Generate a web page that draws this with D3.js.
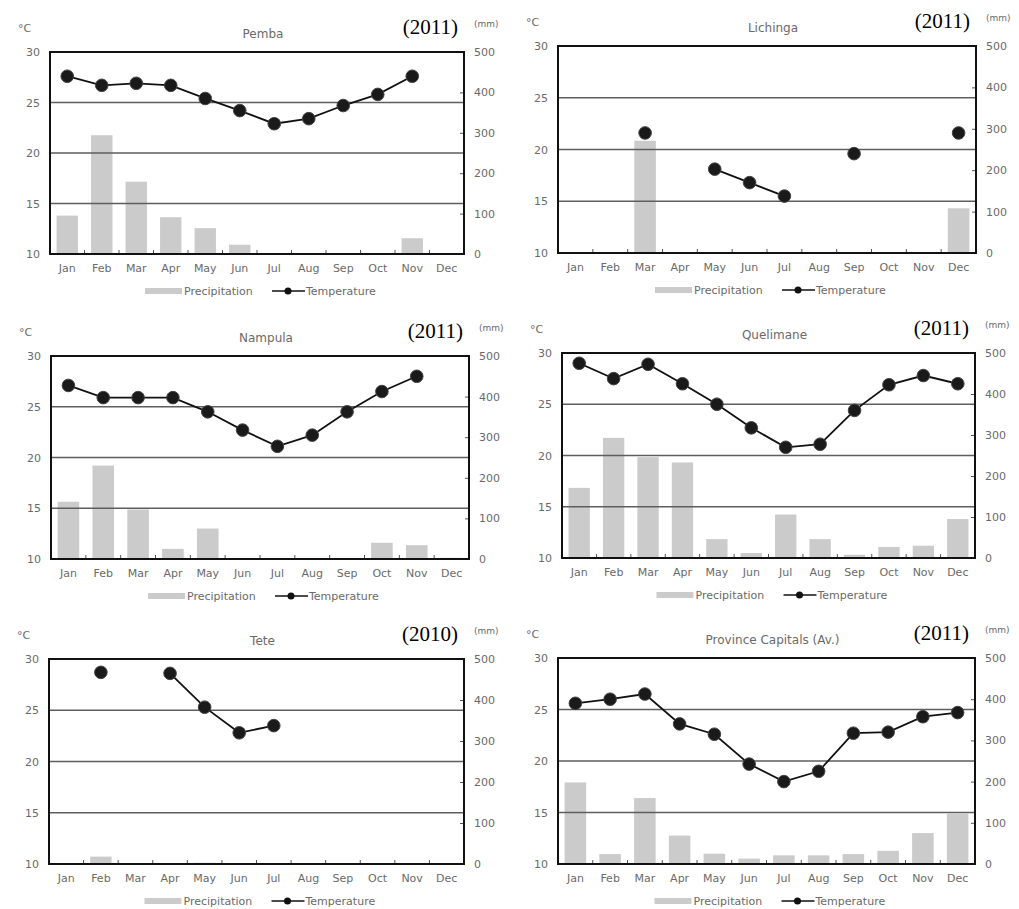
<!DOCTYPE html>
<html>
<head>
<meta charset="utf-8">
<script src="https://cdn.jsdelivr.net/npm/d3@7"></script>
<style>
  body { margin: 0; background: #fff; }
  svg text { font-family: "DejaVu Sans", sans-serif; }
</style>
</head>
<body>
<div id="chart"></div>
<script>
var months = ['Jan', 'Feb', 'Mar', 'Apr', 'May', 'Jun', 'Jul', 'Aug', 'Sep', 'Oct', 'Nov', 'Dec'];
var tempTicks = [10, 15, 20, 25, 30];
var precipTicks = [0, 100, 200, 300, 400, 500];

var stations = ['Pemba', 'Lichinga', 'Nampula', 'Quelimane', 'Tete', 'Province Capitals (Av.)'];
var years = ['(2011)', '(2011)', '(2011)', '(2011)', '(2010)', '(2011)'];

var pembaTemp = [27.6, 26.7, 26.9, 26.7, 25.4, 24.2, 22.9, 23.4, 24.7, 25.8, 27.6, null];
var pembaPrecip = [95, 294, 179, 91, 64, 23, 2, 0, 1, 2, 39, 0];

var lichingaTemp = [null, null, 21.6, null, 18.1, 16.8, 15.5, null, 19.6, null, null, 21.6];
var lichingaPrecip = [0, 0, 271, 0, 0, 0, 0, 0, 0, 0, 0, 108];

var nampulaTemp = [27.1, 25.9, 25.9, 25.9, 24.5, 22.7, 21.1, 22.2, 24.5, 26.5, 28.0, null];
var nampulaPrecip = [141, 230, 122, 25, 75, 2, 1, 1, 0, 40, 34, 3];

var quelimaneTemp = [29.0, 27.5, 28.9, 27.0, 25.0, 22.7, 20.8, 21.1, 24.4, 26.9, 27.8, 27.0];
var quelimanePrecip = [171, 293, 246, 233, 46, 12, 106, 46, 8, 27, 30, 95];

var teteTemp = [null, 28.7, null, 28.6, 25.3, 22.8, 23.5, null, null, null, null, null];
var tetePrecip = [0, 18, 0, 2, 3, 1, 0, 0, 0, 0, 0, 0];

var capitalsTemp = [25.6, 26.0, 26.5, 23.6, 22.6, 19.7, 18.0, 19.0, 22.7, 22.8, 24.3, 24.7];
var capitalsPrecip = [198, 24, 160, 69, 25, 13, 21, 21, 24, 32, 75, 122];

var tempSeries = [pembaTemp, lichingaTemp, nampulaTemp, quelimaneTemp, teteTemp, capitalsTemp];
var precipSeries = [pembaPrecip, lichingaPrecip, nampulaPrecip, quelimanePrecip, tetePrecip, capitalsPrecip];

// plot rectangles of each panel: left, top, right, bottom
var frames = [
  [50, 52, 464, 254],
  [558, 46, 976, 253],
  [51, 356, 469, 559],
  [562, 353, 975, 558],
  [49, 659, 464, 864],
  [558, 658, 975, 864]
];

var svg = d3.select('#chart')
  .append('svg')
  .attr('width', 1019)
  .attr('height', 909);

var textColor = '#6a6a6a';
var barColor = '#cbcbcb';

stations.forEach(function(name, i) {
  var f = frames[i];
  var left = f[0], top = f[1], right = f[2], bottom = f[3];
  var g = svg.append('g');

  var x = d3.scaleBand()
    .domain(months)
    .range([left, right])
    .paddingInner(0.38)
    .paddingOuter(0.19);

  var xc = function(m) { return x(m) + x.bandwidth() / 2; };

  var yT = d3.scaleLinear().domain([10, 30]).range([bottom, top]);
  var yP = d3.scaleLinear().domain([0, 500]).range([bottom, top]);

  // bars
  var precip = precipSeries[i];
  g.selectAll('.bar')
    .data(months)
    .enter()
    .append('rect')
    .attr('class', 'bar')
    .attr('x', function(m) { return x(m); })
    .attr('width', x.bandwidth())
    .attr('y', function(m, j) { return yP(precip[j]); })
    .attr('height', function(m, j) { return bottom - yP(precip[j]); })
    .attr('fill', barColor);

  // gridlines
  g.selectAll('.grid')
    .data([15, 20, 25])
    .enter()
    .append('line')
    .attr('x1', left)
    .attr('x2', right)
    .attr('y1', function(d) { return yT(d); })
    .attr('y2', function(d) { return yT(d); })
    .attr('stroke', '#5e5e5e')
    .attr('stroke-width', 1.5);

  // left axis
  var leftAxis = d3.axisLeft(yT).tickValues(tempTicks).tickSize(0).tickPadding(10);
  var la = g.append('g').attr('transform', 'translate(' + left + ',0)').call(leftAxis);
  la.select('.domain').remove();
  la.selectAll('text').attr('fill', textColor).style('font-size', '11px');

  // right axis with inward ticks
  var rightAxis = d3.axisRight(yP).tickValues(precipTicks).tickSizeInner(-4).tickSizeOuter(0).tickPadding(10);
  var ra = g.append('g').attr('transform', 'translate(' + right + ',0)').call(rightAxis);
  ra.select('.domain').remove();
  ra.selectAll('line').attr('stroke', '#555');
  ra.selectAll('text').attr('fill', textColor).style('font-size', '11px');

  // bottom axis: month labels and small inward ticks between months
  var bottomAxis = d3.axisBottom(x).tickSize(0).tickPadding(10);
  var ba = g.append('g').attr('transform', 'translate(0,' + bottom + ')').call(bottomAxis);
  ba.select('.domain').remove();
  ba.selectAll('text').attr('fill', textColor).style('font-size', '11px');
  g.selectAll('.mtick')
    .data(months.slice(1))
    .enter()
    .append('line')
    .attr('x1', function(m) { return x(m) - x.step() * x.paddingInner() / 2; })
    .attr('x2', function(m) { return x(m) - x.step() * x.paddingInner() / 2; })
    .attr('y1', bottom)
    .attr('y2', bottom - 4)
    .attr('stroke', '#555');

  // frame
  g.append('rect')
    .attr('x', left)
    .attr('y', top)
    .attr('width', right - left)
    .attr('height', bottom - top)
    .attr('fill', 'none')
    .attr('stroke', '#111')
    .attr('stroke-width', 2);

  // temperature line
  var temp = tempSeries[i];
  var pts = months.map(function(m, j) { return {m: m, v: temp[j]}; });
  var line = d3.line()
    .defined(function(d) { return d.v != null; })
    .x(function(d) { return xc(d.m); })
    .y(function(d) { return yT(d.v); });

  g.append('path')
    .datum(pts)
    .attr('d', line)
    .attr('fill', 'none')
    .attr('stroke', '#111')
    .attr('stroke-width', 1.8);

  g.selectAll('.dot')
    .data(pts.filter(function(d) { return d.v != null; }))
    .enter()
    .append('circle')
    .attr('cx', function(d) { return xc(d.m); })
    .attr('cy', function(d) { return yT(d.v); })
    .attr('r', 6.3)
    .attr('fill', '#1a1a1a')
    .attr('stroke', '#444')
    .attr('stroke-width', 1);

  // titles and units
  var cx = (left + right) / 2;
  g.append('text')
    .attr('x', cx + 6)
    .attr('y', top - 14)
    .attr('text-anchor', 'middle')
    .attr('fill', textColor)
    .style('font-size', '12px')
    .text(name);

  g.append('text')
    .attr('x', right - 6)
    .attr('y', top - 18)
    .attr('text-anchor', 'end')
    .attr('fill', '#000')
    .style('font-family', '"Liberation Serif", "Times New Roman", serif')
    .style('font-size', '21px')
    .text(years[i]);

  g.append('text')
    .attr('x', right + 10)
    .attr('y', top - 25)
    .attr('fill', textColor)
    .style('font-size', '9px')
    .text('(mm)');

  g.append('text')
    .attr('x', left - 32)
    .attr('y', top - 20)
    .attr('fill', textColor)
    .style('font-size', '11px')
    .text('°C');

  // legend
  var ly = bottom + 37;
  var lx = cx - 112;
  g.append('rect')
    .attr('x', lx)
    .attr('y', ly - 3)
    .attr('width', 37)
    .attr('height', 6)
    .attr('fill', barColor);
  g.append('text')
    .attr('x', lx + 39)
    .attr('y', ly + 4)
    .attr('fill', textColor)
    .style('font-size', '11px')
    .text('Precipitation');
  g.append('line')
    .attr('x1', lx + 127)
    .attr('x2', lx + 160)
    .attr('y1', ly)
    .attr('y2', ly)
    .attr('stroke', '#111')
    .attr('stroke-width', 1.5);
  g.append('circle')
    .attr('cx', lx + 143)
    .attr('cy', ly)
    .attr('r', 3.5)
    .attr('fill', '#111');
  g.append('text')
    .attr('x', lx + 161)
    .attr('y', ly + 4)
    .attr('fill', textColor)
    .style('font-size', '11px')
    .text('Temperature');
});
</script>
</body>
</html>
